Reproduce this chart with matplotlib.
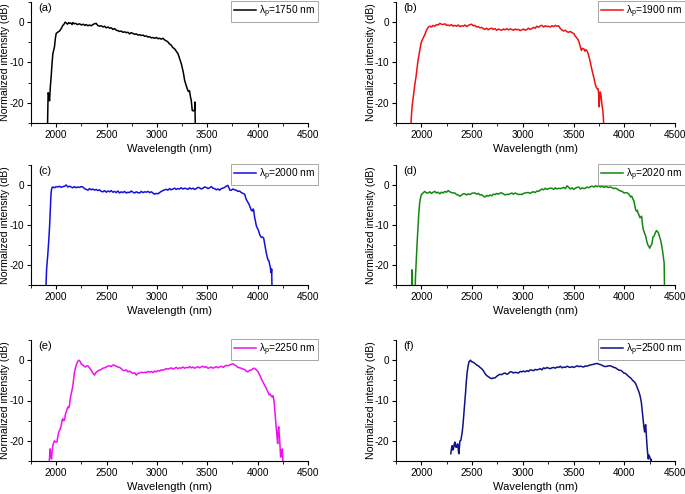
import matplotlib
matplotlib.use("Agg")
import matplotlib.pyplot as plt
from matplotlib.ticker import MultipleLocator

plt.rcParams['font.family'] = ['Liberation Sans', 'DejaVu Sans']
plt.rcParams['axes.unicode_minus'] = False

# ---- data (wavelength in nm, intensity in dB) ----
wl_a = [1911, 1920, 1927, 1934, 1942, 1950, 1958, 1967, 1975, 1983, 1992, 2000, 2015, 2033, 2050,
        2066, 2078, 2089, 2100, 2112, 2124, 2132, 2145, 2158, 2166, 2180, 2195, 2210, 2232, 2250,
        2268, 2285, 2298, 2315, 2330, 2348, 2364, 2380, 2397, 2412, 2430, 2448, 2465, 2480, 2497,
        2515, 2530, 2548, 2563, 2580, 2597, 2612, 2629, 2645, 2662, 2680, 2695, 2712, 2728, 2745,
        2762, 2778, 2795, 2812, 2828, 2845, 2862, 2878, 2894, 2912, 2928, 2945, 2960, 2978, 2995,
        3010, 3026, 3042, 3060, 3076, 3092, 3109, 3125, 3142, 3158, 3175, 3192, 3209, 3225, 3242,
        3258, 3266, 3275, 3288, 3301, 3312, 3324, 3333, 3341, 3351, 3362, 3374, 3377, 3384]
db_a = [-30, -17.5, -18.0, -19.5, -16.0, -13.6, -10.5, -7.8, -7.0, -6.1, -4.0, -2.8, -2.5, -2.2, -1.6,
        -0.8, -0.5, 0.0, -0.2, -0.5, -0.1, -0.3, -0.2, -0.6, -0.1, -0.4, -0.3, -0.6, -0.4, -0.7,
        -0.5, -0.8, -0.6, -0.9, -0.7, -0.9, -0.6, -0.4, -0.3, -0.8, -1.0, -0.9, -1.2, -1.0, -1.4,
        -1.2, -1.5, -1.4, -1.8, -1.6, -2.0, -2.1, -2.3, -2.2, -2.5, -2.4, -2.6, -2.5, -2.9, -2.6,
        -2.8, -3.0, -2.9, -3.2, -3.1, -3.3, -3.2, -3.5, -3.4, -3.7, -3.6, -3.9, -3.8, -4.0, -3.8,
        -4.1, -4.0, -4.2, -4.0, -4.4, -4.6, -4.9, -5.4, -5.7, -6.3, -6.6, -7.2, -7.8, -9.0, -10.3,
        -12.0, -13.0, -14.4, -15.5, -16.5, -17.2, -17.0, -18.5, -19.4, -21.9, -22.0, -21.8, -19.8, -30]

wl_b = [1891, 1900, 1908, 1918, 1927, 1937, 1947, 1957, 1967, 1977, 1987, 1997, 2007, 2020, 2033,
        2046, 2059, 2070, 2083, 2100, 2115, 2132, 2150, 2166, 2182, 2198, 2215, 2232, 2248, 2264,
        2280, 2297, 2313, 2330, 2347, 2363, 2380, 2396, 2413, 2430, 2446, 2462, 2480, 2495, 2512,
        2528, 2545, 2561, 2578, 2595, 2610, 2627, 2643, 2660, 2677, 2693, 2710, 2726, 2743, 2760,
        2776, 2792, 2809, 2825, 2842, 2858, 2875, 2891, 2908, 2924, 2940, 2957, 2974, 2990, 3007,
        3023, 3040, 3056, 3072, 3089, 3105, 3122, 3138, 3155, 3172, 3188, 3205, 3221, 3238, 3254,
        3270, 3287, 3304, 3320, 3336, 3353, 3370, 3386, 3402, 3419, 3436, 3452, 3468, 3485, 3502,
        3518, 3535, 3548, 3558, 3568, 3577, 3588, 3601, 3612, 3622, 3634, 3646, 3657, 3670, 3683,
        3695, 3706, 3715, 3723, 3733, 3742, 3748, 3752, 3757, 3762, 3767, 3772, 3780, 3789, 3795, 3802]
db_b = [-30, -24, -21, -19, -17, -15.2, -13.6, -11.5, -9.5, -8.0, -6.6, -5.2, -4.5, -3.8, -3.2,
        -2.3, -1.6, -1.2, -1.0, -1.2, -0.8, -1.0, -0.6, -0.7, -0.3, -0.5, -0.6, -0.4, -0.8, -0.7,
        -0.9, -0.6, -1.0, -0.8, -1.0, -0.7, -1.1, -0.9, -1.0, -0.7, -1.1, -0.8, -0.6, -0.5, -0.9,
        -0.8, -1.2, -1.1, -1.4, -1.3, -1.6, -1.8, -1.5, -1.9, -1.6, -1.5, -1.8, -1.6, -2.0, -1.7,
        -1.9, -2.0, -1.7, -1.9, -1.6, -1.9, -1.7, -1.8, -2.0, -1.7, -1.9, -1.8, -2.1, -1.9, -1.7,
        -2.0, -1.8, -1.5, -1.8, -1.6, -1.3, -1.5, -1.0, -1.3, -0.9, -0.8, -1.2, -0.9, -1.1, -1.0,
        -1.2, -0.9, -1.1, -0.8, -1.0, -0.9, -1.6, -1.9, -2.2, -2.0, -2.4, -2.5, -2.3, -2.6, -2.8,
        -3.5, -4.0, -4.5, -5.3, -6.2, -7.0, -6.5, -6.6, -7.2, -6.8, -7.2, -8.0, -9.0, -10.5, -12.0,
        -13.2, -14.4, -15.5, -16.1, -16.5, -16.5, -18.0, -21.0, -19.0, -17.3, -17.5, -18.5, -20.5, -22.0, -24.0, -30]

wl_c = [1891, 1905, 1917, 1926, 1934, 1940, 1944, 1949, 1954, 1960, 1967, 1983, 2000, 2017, 2033,
        2050, 2066, 2083, 2099, 2116, 2132, 2149, 2166, 2182, 2199, 2215, 2232, 2248, 2265, 2281,
        2298, 2315, 2331, 2348, 2364, 2381, 2397, 2414, 2430, 2447, 2464, 2480, 2497, 2513, 2530,
        2546, 2563, 2580, 2596, 2613, 2629, 2646, 2662, 2679, 2695, 2712, 2728, 2745, 2762, 2778,
        2795, 2811, 2828, 2845, 2861, 2878, 2894, 2911, 2927, 2944, 2960, 2977, 2993, 3010, 3026,
        3043, 3060, 3076, 3093, 3109, 3126, 3142, 3159, 3175, 3192, 3208, 3225, 3241, 3258, 3274,
        3291, 3308, 3324, 3341, 3358, 3374, 3391, 3407, 3424, 3440, 3457, 3473, 3490, 3507, 3523,
        3540, 3556, 3573, 3589, 3606, 3622, 3639, 3655, 3672, 3688, 3705, 3715, 3725, 3738, 3754,
        3771, 3788, 3804, 3821, 3838, 3855, 3871, 3880, 3887, 3900, 3914, 3926, 3937, 3948, 3955,
        3960, 3970, 3978, 3987, 3998, 4010, 4022, 4036, 4048, 4060, 4068, 4076, 4086, 4096, 4104,
        4113, 4120, 4126, 4131, 4136, 4139, 4146]
db_c = [-30, -21, -17.3, -14.0, -10.6, -7.0, -4.0, -2.0, -1.1, -0.6, -0.5, -0.7, -0.4, -0.5, -0.3,
        -0.6, -0.4, -0.3, 0.0, -0.5, -0.3, -0.5, -0.7, -0.4, -0.7, -0.5, -0.6, -0.4, -0.5, -0.9,
        -1.1, -1.3, -0.9, -1.2, -1.0, -1.3, -1.1, -1.4, -1.2, -1.6, -1.7, -1.4, -1.8, -1.5, -1.7,
        -1.4, -1.8, -1.6, -1.9, -1.5, -2.0, -1.7, -1.9, -1.6, -2.0, -1.8, -1.9, -1.5, -1.8, -2.0,
        -1.7, -1.9, -2.0, -1.6, -1.9, -1.7, -1.8, -1.6, -1.9, -1.7, -2.0, -2.3, -2.1, -2.2, -1.9,
        -1.6, -1.4, -1.2, -1.1, -1.3, -0.9, -1.2, -1.0, -0.8, -1.1, -0.9, -1.0, -0.7, -1.0, -0.8,
        -0.9, -1.1, -0.7, -1.0, -0.8, -1.1, -0.9, -0.6, -0.7, -1.0, -0.8, -0.5, -0.6, -0.9, -0.7,
        -0.4, -0.8, -0.9, -1.2, -1.0, -1.3, -0.9, -0.8, -0.6, -0.3, -0.1, -0.7, -1.3, -1.3, -1.0,
        -1.2, -1.3, -1.6, -1.5, -1.9, -2.1, -2.3, -3.0, -3.6, -4.2, -4.8, -5.6, -6.3, -6.5, -6.0,
        -6.2, -8.1, -9.0, -10.2, -10.8, -11.5, -12.5, -13.1, -13.0, -13.3, -14.5, -15.6, -17.0, -18.1, -18.8,
        -19.0, -20.0, -20.6, -21.6, -22.0, -21.0, -30]

wl_d = [1901, 1905, 1908, 1911, 1916, 1934, 1942, 1950, 1958, 1967, 1975, 1983, 1992, 2000, 2017,
        2033, 2050, 2066, 2083, 2099, 2116, 2132, 2149, 2165, 2182, 2198, 2215, 2231, 2248, 2264,
        2281, 2297, 2314, 2330, 2347, 2363, 2380, 2396, 2413, 2429, 2446, 2462, 2479, 2495, 2512,
        2528, 2545, 2561, 2578, 2594, 2611, 2627, 2644, 2660, 2677, 2693, 2710, 2726, 2743, 2759,
        2776, 2792, 2809, 2825, 2842, 2858, 2875, 2891, 2908, 2924, 2941, 2957, 2974, 2990, 3007,
        3023, 3040, 3056, 3073, 3089, 3106, 3122, 3139, 3155, 3172, 3188, 3205, 3221, 3238, 3254,
        3271, 3287, 3304, 3320, 3337, 3353, 3370, 3386, 3403, 3419, 3436, 3452, 3469, 3485, 3502,
        3518, 3535, 3551, 3568, 3584, 3601, 3617, 3634, 3650, 3667, 3683, 3700, 3716, 3733, 3749,
        3766, 3782, 3799, 3815, 3832, 3848, 3865, 3881, 3898, 3914, 3931, 3947, 3964, 3980, 3997,
        4013, 4030, 4046, 4063, 4073, 4085, 4096, 4104, 4112, 4120, 4128, 4135, 4145, 4155, 4163,
        4171, 4180, 4188, 4200, 4211, 4221, 4231, 4241, 4251, 4261, 4271, 4283, 4294, 4305, 4317,
        4327, 4337, 4348, 4360, 4368, 4376, 4385, 4393, 4399]
db_d = [-30, -24, -21.2, -24, -30, -30, -23, -18.7, -14.5, -10.3, -7.0, -4.5, -3.2, -2.4, -2.0,
        -1.6, -2.0, -2.0, -1.7, -2.1, -1.8, -1.6, -2.0, -1.8, -2.2, -1.8, -2.0, -1.6, -1.8, -1.4,
        -1.7, -1.9, -2.0, -2.0, -2.4, -2.5, -2.8, -2.5, -2.2, -2.2, -2.5, -2.2, -2.4, -2.1, -2.0,
        -2.0, -2.3, -2.1, -2.5, -2.4, -2.8, -3.0, -2.6, -2.8, -2.5, -2.7, -2.3, -2.4, -2.1, -2.3,
        -2.0, -2.0, -2.2, -2.5, -2.3, -2.4, -2.2, -2.0, -2.3, -2.0, -2.2, -2.4, -2.3, -2.4, -2.1,
        -2.0, -1.9, -1.9, -2.1, -1.8, -1.7, -1.9, -1.5, -1.6, -1.3, -1.0, -1.2, -0.8, -1.1, -0.9,
        -0.8, -0.8, -1.1, -0.7, -1.0, -0.8, -0.9, -0.8, -0.6, -0.9, -0.2, -0.6, -1.0, -0.7, -1.1,
        -0.8, -0.6, -0.5, -1.0, -0.7, -0.9, -0.8, -0.5, -0.7, -0.4, -0.3, -0.5, -0.2, -0.4, -0.2,
        -0.5, -0.3, -0.6, -0.4, -0.5, -0.6, -0.5, -0.7, -0.9, -0.8, -1.0, -1.3, -1.5, -1.6, -2.0,
        -1.9, -2.0, -2.3, -3.0, -2.8, -3.5, -4.1, -5.2, -6.2, -6.5, -6.3, -7.0, -7.5, -8.2, -8.0,
        -7.8, -10.0, -11.2, -12.0, -12.8, -14.0, -14.9, -15.3, -15.8, -15.2, -14.9, -13.0, -12.8, -12.0, -11.4,
        -11.6, -12.0, -13.0, -14.0, -15.0, -16.2, -18.0, -19.5, -30]

wl_e = [1924, 1933, 1940, 1947, 1954, 1960, 1967, 1975, 1983, 1995, 2007, 2016, 2026, 2038, 2050,
        2058, 2066, 2075, 2083, 2091, 2099, 2108, 2116, 2124, 2132, 2140, 2149, 2157, 2166, 2174,
        2182, 2193, 2205, 2215, 2225, 2238, 2250, 2265, 2278, 2291, 2303, 2315, 2331, 2348, 2364,
        2381, 2393, 2404, 2417, 2430, 2447, 2464, 2480, 2497, 2513, 2530, 2546, 2563, 2579, 2596,
        2613, 2629, 2646, 2662, 2679, 2695, 2712, 2728, 2745, 2762, 2778, 2795, 2811, 2828, 2844,
        2861, 2878, 2894, 2911, 2927, 2944, 2960, 2977, 2993, 3010, 3027, 3043, 3060, 3076, 3093,
        3109, 3126, 3142, 3159, 3175, 3192, 3208, 3225, 3241, 3258, 3275, 3291, 3308, 3324, 3341,
        3357, 3374, 3391, 3407, 3424, 3440, 3457, 3473, 3490, 3506, 3523, 3540, 3556, 3573, 3589,
        3606, 3622, 3639, 3656, 3672, 3689, 3705, 3722, 3738, 3755, 3771, 3788, 3804, 3821, 3837,
        3854, 3871, 3887, 3904, 3920, 3937, 3953, 3970, 3986, 4003, 4019, 4036, 4052, 4069, 4086,
        4103, 4115, 4126, 4136, 4146, 4152, 4159, 4166, 4172, 4179, 4186, 4192, 4199, 4204, 4209,
        4214, 4219, 4224, 4228, 4232, 4238, 4245, 4250, 4255]
db_e = [-30, -24.5, -22.0, -23.5, -24.5, -22.5, -21.2, -20.5, -20.0, -20.3, -20.3, -19.0, -17.8, -17.2, -16.2,
        -15.0, -14.5, -15.0, -14.9, -13.5, -12.9, -12.2, -11.6, -11.8, -11.2, -9.5, -8.3, -7.5, -6.2, -4.5,
        -2.9, -1.8, -0.8, -0.3, 0.0, -0.3, -1.0, -1.2, -1.5, -1.7, -1.4, -1.4, -1.9, -2.5, -3.2,
        -3.7, -3.1, -2.9, -2.6, -2.5, -2.3, -2.0, -1.9, -1.7, -1.5, -1.4, -1.6, -1.2, -1.3, -1.5,
        -1.7, -1.8, -2.1, -2.5, -2.6, -2.4, -2.9, -2.7, -3.0, -3.3, -3.1, -3.7, -3.3, -3.2, -3.0,
        -3.1, -3.0, -3.1, -2.8, -3.0, -2.8, -3.1, -2.7, -2.9, -2.6, -2.7, -2.4, -2.5, -2.3, -2.1,
        -2.2, -2.1, -1.9, -2.2, -2.0, -1.8, -2.1, -1.9, -2.0, -1.7, -2.0, -1.8, -1.9, -1.6, -1.9,
        -1.7, -2.0, -1.8, -1.6, -1.9, -1.7, -1.5, -1.8, -1.6, -2.0, -1.9, -1.7, -2.0, -1.8, -1.6,
        -1.9, -1.7, -1.5, -1.8, -1.5, -1.3, -1.4, -1.2, -1.0, -0.9, -1.2, -1.4, -1.8, -1.9, -2.0,
        -2.2, -2.3, -2.7, -2.9, -2.5, -2.5, -2.1, -2.0, -2.4, -2.8, -3.6, -4.6, -5.4, -6.2, -7.0,
        -7.9, -8.6, -8.4, -9.0, -9.1, -8.8, -9.5, -11.0, -12.9, -15.0, -17.0, -19.0, -20.7, -17.5, -16.5,
        -18.0, -19.8, -22.0, -24.0, -24.0, -23.5, -22.0, -24.5, -30]

wl_f = [2290, 2297, 2304, 2310, 2317, 2323, 2330, 2338, 2347, 2353, 2360, 2365, 2370, 2380, 2389,
        2396, 2403, 2411, 2419, 2428, 2436, 2444, 2452, 2460, 2469, 2477, 2485, 2494, 2502, 2515,
        2528, 2545, 2561, 2578, 2594, 2611, 2627, 2643, 2660, 2677, 2693, 2710, 2726, 2743, 2759,
        2776, 2792, 2809, 2825, 2842, 2858, 2875, 2891, 2908, 2924, 2941, 2957, 2974, 2990, 3007,
        3023, 3040, 3056, 3073, 3089, 3106, 3122, 3139, 3155, 3172, 3188, 3205, 3221, 3238, 3254,
        3271, 3287, 3304, 3320, 3337, 3353, 3370, 3386, 3403, 3419, 3436, 3452, 3469, 3485, 3502,
        3518, 3535, 3551, 3568, 3584, 3601, 3617, 3634, 3650, 3667, 3683, 3700, 3716, 3733, 3749,
        3766, 3782, 3799, 3815, 3832, 3848, 3865, 3881, 3898, 3914, 3931, 3947, 3964, 3980, 3997,
        4013, 4030, 4046, 4063, 4079, 4096, 4112, 4128, 4140, 4145, 4157, 4168, 4177, 4185, 4193,
        4201, 4206, 4211, 4218, 4224, 4230, 4237, 4242, 4247, 4254, 4261, 4266, 4271]
db_f = [-23.2, -22.0, -21.2, -22.3, -21.9, -21.0, -20.3, -21.5, -21.6, -20.8, -20.8, -22.5, -23.2, -20.0, -19.9,
        -18.8, -17.8, -15.8, -13.3, -10.5, -7.9, -5.0, -2.9, -1.6, -0.4, -0.2, 0.0, -0.4, -0.4, -0.6,
        -0.8, -1.2, -1.4, -1.8, -2.1, -2.6, -3.3, -3.8, -4.1, -4.4, -4.6, -4.4, -4.4, -4.0, -3.7,
        -3.5, -3.6, -3.3, -3.2, -3.5, -3.3, -2.9, -2.9, -3.2, -3.0, -3.1, -3.2, -2.8, -2.9, -2.7,
        -2.9, -2.6, -2.8, -2.4, -2.5, -2.6, -2.3, -2.4, -2.3, -2.1, -2.4, -1.9, -2.1, -1.8, -2.0,
        -2.1, -1.9, -1.8, -2.0, -1.7, -1.8, -1.5, -1.9, -1.7, -1.8, -1.5, -1.7, -1.8, -1.6, -1.8,
        -1.6, -1.4, -1.6, -1.5, -1.6, -1.7, -1.4, -1.5, -1.3, -1.2, -1.1, -1.0, -0.9, -0.8, -1.0,
        -1.1, -1.3, -1.5, -1.6, -1.5, -1.4, -1.4, -1.6, -1.8, -1.9, -2.2, -2.5, -2.5, -2.8, -3.2,
        -3.3, -3.7, -4.1, -4.4, -4.9, -5.3, -5.8, -6.8, -7.5, -7.9, -9.0, -10.4, -12.5, -14.5, -16.5,
        -17.8, -16.5, -16.0, -19.0, -21.2, -23.0, -24.5, -23.5, -23.8, -24.2, -24.8, -24.6, -30]

panels = ['(a)', '(b)', '(c)', '(d)', '(e)', '(f)']
pump_nm = [1750, 1900, 2000, 2020, 2250, 2500]
colors = ['#000000', '#ee1111', '#1111dd', '#118811', '#ee11ee', '#111188']
series = [(wl_a, db_a), (wl_b, db_b), (wl_c, db_c), (wl_d, db_d), (wl_e, db_e), (wl_f, db_f)]

W, H = 685, 494
fig = plt.figure(figsize=(W / 100, H / 100), dpi=100)

# axes boxes in pixels: left, top, right, bottom
col_px = [(31, 308), (396, 675)]
row_px = [(2, 123), (165, 285), (340, 461)]

for i, (wl, db) in enumerate(series):
    r, c = divmod(i, 2)
    x0, x1 = col_px[c]
    y0, y1 = row_px[r]
    ax = fig.add_axes([x0 / W, 1 - y1 / H, (x1 - x0) / W, (y1 - y0) / H])
    ax.plot(wl, db, color=colors[i], lw=1.1,
            label='λ$_\\mathregular{p}$=%d nm' % pump_nm[i])
    ax.set_xlim(1750, 4500)
    ax.set_ylim(-25, 5)
    ax.xaxis.set_minor_locator(MultipleLocator(250))
    ax.yaxis.set_minor_locator(MultipleLocator(5))
    ax.set_xticks([2000, 2500, 3000, 3500, 4000, 4500])
    ax.set_yticks([0, -10, -20])
    ax.tick_params(which='major', direction='out', length=3, width=0.8, labelsize=7.2, pad=2)
    ax.tick_params(which='minor', direction='out', length=2, width=0.6)
    for s in ['top', 'right']:
        ax.spines[s].set_visible(False)
    for s in ['left', 'bottom']:
        ax.spines[s].set_linewidth(0.8)
    ax.set_xlabel('Wavelength (nm)', fontsize=8, labelpad=3)
    ax.set_ylabel('Normalized intensity (dB)', fontsize=7.6)
    # right edge of the rotated label sits just left of the tick labels
    ax.yaxis.set_label_coords(-20.5 / (x1 - x0), 0.5)
    ax.text(0.025, 0.99, panels[i], transform=ax.transAxes, fontsize=8, va='top', ha='left')
    leg = ax.legend(loc='upper right', bbox_to_anchor=(1.035, 1.01), fontsize=7.3,
                    fancybox=False, framealpha=1, edgecolor='#999999',
                    handlelength=2.2, handletextpad=0.3, borderpad=0.25, borderaxespad=0)
    leg.get_frame().set_linewidth(0.6)

fig.savefig('out.png', dpi=100)
